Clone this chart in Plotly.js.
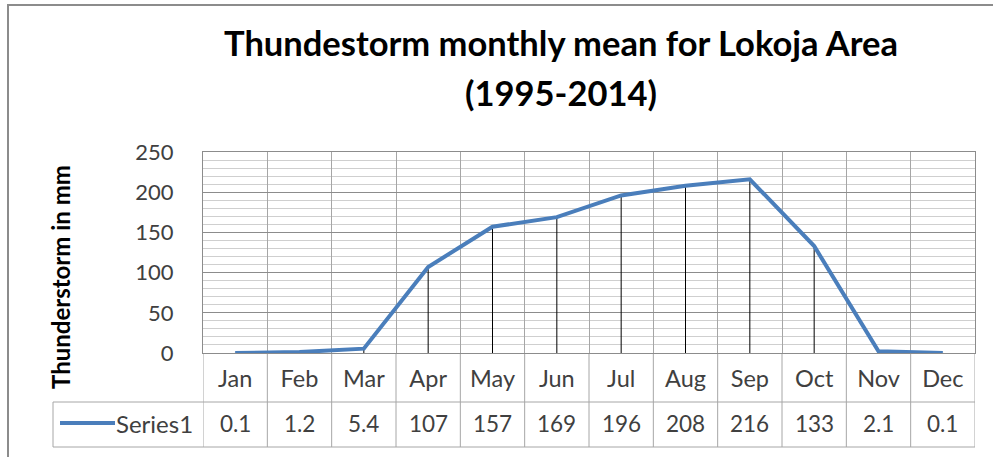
<!DOCTYPE html>
<html>
<head>
<meta charset="utf-8">
<script src="https://cdn.plot.ly/plotly-3.0.1.min.js"></script>
<style>html,body{margin:0;padding:0;background:#fff;}#chart{width:993px;height:457px;}</style>
</head>
<body>
<div id="chart"></div>
<script>
const months = ["Jan","Feb","Mar","Apr","May","Jun","Jul","Aug","Sep","Oct","Nov","Dec"];
const values = [0.1, 1.2, 5.4, 107, 157, 169, 196, 208, 216, 133, 2.1, 0.1];
const valueLabels = ["0.1","1.2","5.4","107","157","169","196","208","216","133","2.1","0.1"];
const seriesName = "Series1";
const titleLine1 = "Thundestorm monthly mean for Lokoja Area";
const titleLine2 = "(1995-2014)";
const yTitle = "Thunderstorm in mm";

const FONT = "Lato, 'Open Sans', sans-serif";
const BLUE = "#4A7EBB";
const GRID = "#a6a6a6";

// pixel -> paper helpers (plot area: x 203..975, y 152..353)
const L = 203, R = 975, T = 152, B = 353;
const px = x => (x - L) / (R - L);
const py = y => (B - y) / (B - T);

const rowLine = py(402), tableBottom = py(447), legendLeft = px(53);

const shapes = [];
// table vertical lines at category boundaries
for (let i = 0; i <= months.length; i++) {
  shapes.push({type:'line', xref:'x', yref:'paper', x0:i-0.5, x1:i-0.5, y0:0, y1:tableBottom,
    line:{color:GRID, width:1}, layer:'below'});
}
// horizontal table lines
shapes.push({type:'line', xref:'paper', yref:'paper', x0:legendLeft, x1:1, y0:rowLine, y1:rowLine, line:{color:GRID,width:1}});
shapes.push({type:'line', xref:'paper', yref:'paper', x0:legendLeft, x1:1, y0:tableBottom, y1:tableBottom, line:{color:GRID,width:1}});
shapes.push({type:'line', xref:'paper', yref:'paper', x0:legendLeft, x1:legendLeft, y0:rowLine, y1:tableBottom, line:{color:GRID,width:1}});
// legend key line
shapes.push({type:'line', xref:'paper', yref:'paper', x0:px(60), x1:px(115), y0:py(423), y1:py(423), line:{color:BLUE,width:4}});
// outer chart border (top & left)
shapes.push({type:'rect', xref:'paper', yref:'paper', x0:px(8), x1:px(1010), y0:py(5), y1:py(480), line:{color:'#8c8c8c',width:2}, fillcolor:'rgba(0,0,0,0)'});

const annotations = [];
months.forEach((m, i) => {
  annotations.push({xref:'x', yref:'paper', x:i, y:py(423.5), text:valueLabels[i], showarrow:false,
    xanchor:'center', yanchor:'middle', font:{family:FONT, size:22.5, color:'#404040'}});
});
annotations.push({xref:'paper', yref:'paper', x:px(195), y:py(423.5), text:seriesName, showarrow:false,
  xanchor:'right', yanchor:'middle', font:{family:FONT, size:24, color:'#404040'}});
annotations.push({xref:'paper', yref:'paper', x:px(60), y:py(277), text:'<b>'+yTitle+'</b>', textangle:-90, showarrow:false,
  xanchor:'center', yanchor:'middle', font:{family:FONT, size:24, color:'#000'}});
annotations.push({xref:'paper', yref:'paper', x:px(561), y:py(93), text:'<b>'+titleLine2+'</b>', showarrow:false,
  xanchor:'center', yanchor:'middle', font:{family:FONT, size:34.5, color:'#000'}});

const trace = {
  type:'scatter', mode:'lines', x:months, y:values, name:seriesName,
  line:{color:BLUE, width:4},
  error_y:{type:'data', symmetric:false, array:values.map(()=>0), arrayminus:values, width:0, thickness:1, color:'#000'},
  hoverinfo:'skip'
};

const layout = {
  width:993, height:457,
  margin:{l:L, r:993-R, t:T, b:457-B, pad:0},
  paper_bgcolor:'#fff', plot_bgcolor:'#fff',
  showlegend:false,
  title:{text:'<b>'+titleLine1+'</b>', x:561/993, xanchor:'center', y:1-44/457, yanchor:'middle',
    font:{family:FONT, size:34.5, color:'#000'}},
  xaxis:{type:'category', range:[-0.5, 11.5], tickson:'boundaries', showgrid:true, gridcolor:GRID, gridwidth:1,
    showline:true, linecolor:'#8c8c8c', mirror:true, ticks:'', zeroline:false,
    tickfont:{family:FONT, size:23.5, color:'#404040'}, ticklabelstandoff:5, fixedrange:true},
  yaxis:{range:[0,250], dtick:50, tick0:0, showgrid:true, gridcolor:'#8c8c8c', gridwidth:1,
    minor:{dtick:10, showgrid:true, gridcolor:'#cfcfcf', gridwidth:1},
    showline:true, linecolor:'#8c8c8c', mirror:true, ticks:'', zeroline:false,
    tickfont:{family:FONT, size:22, color:'#404040'}, ticklabelstandoff:24, fixedrange:true},
  shapes:shapes,
  annotations:annotations
};

Plotly.newPlot('chart', [trace], layout, {staticPlot:true, displayModeBar:false});
</script>
</body>
</html>
